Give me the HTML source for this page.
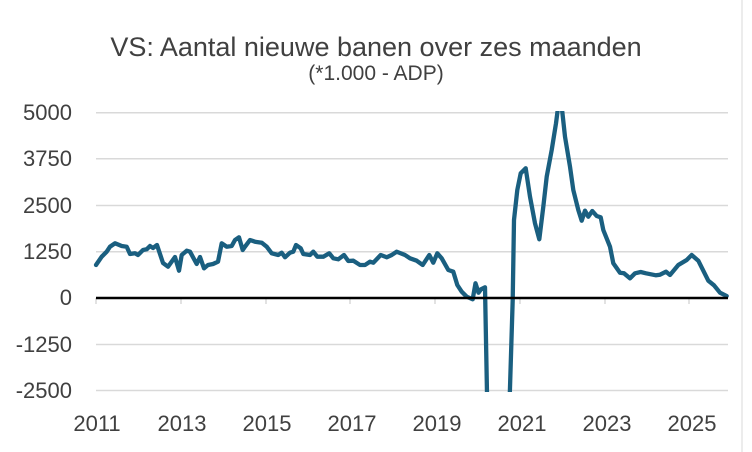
<!DOCTYPE html>
<html><head><meta charset="utf-8"><style>
html,body{margin:0;padding:0;background:#fff;}
svg{display:block;font-family:"Liberation Sans",sans-serif;}
</style></head><body>
<svg width="752" height="452" viewBox="0 0 752 452" xmlns="http://www.w3.org/2000/svg">
<defs><clipPath id="c"><rect x="90" y="111" width="645" height="281"/></clipPath></defs>
<rect x="0" y="0" width="752" height="452" fill="#fff"/>
<line x1="742" y1="0" x2="742" y2="452" stroke="#d9d9d9" stroke-width="1"/>
<text x="376" y="56" text-anchor="middle" font-size="27" fill="#404040">VS: Aantal nieuwe banen over zes maanden</text>
<text x="376" y="80" text-anchor="middle" font-size="21" fill="#404040">(*1.000 - ADP)</text>
<g stroke="#d9d9d9" stroke-width="1.5">
<line x1="96" y1="112.7" x2="728" y2="112.7"/>
<line x1="96" y1="158.7" x2="728" y2="158.7"/>
<line x1="96" y1="205.5" x2="728" y2="205.5"/>
<line x1="96" y1="251.7" x2="728" y2="251.7"/>
<line x1="96" y1="344.5" x2="728" y2="344.5"/>
<line x1="96" y1="390.5" x2="728" y2="390.5"/>
</g>
<g stroke="#d9d9d9" stroke-width="1.5">
<line x1="96" y1="298" x2="96" y2="304"/><line x1="181" y1="298" x2="181" y2="304"/>
<line x1="266" y1="298" x2="266" y2="304"/><line x1="350" y1="298" x2="350" y2="304"/>
<line x1="435" y1="298" x2="435" y2="304"/><line x1="520" y1="298" x2="520" y2="304"/>
<line x1="605" y1="298" x2="605" y2="304"/><line x1="689" y1="298" x2="689" y2="304"/>
</g>
<g font-size="22" fill="#404040" text-anchor="end">
<text x="72" y="120">5000</text><text x="72" y="166">3750</text><text x="72" y="213">2500</text>
<text x="72" y="259">1250</text><text x="72" y="305">0</text><text x="72" y="352">-1250</text><text x="72" y="398">-2500</text>
</g>
<g font-size="22" fill="#404040" text-anchor="middle">
<text x="97" y="431">2011</text><text x="182" y="431">2013</text><text x="267" y="431">2015</text>
<text x="352" y="431">2017</text><text x="437" y="431">2019</text><text x="522" y="431">2021</text>
<text x="607" y="431">2023</text><text x="692" y="431">2025</text>
</g>
<polyline clip-path="url(#c)" fill="none" stroke="#1a5f80" stroke-width="4.3" stroke-linejoin="round" stroke-linecap="round" points="96,265 101.7,256.7 106.7,251.7 110,246.7 115,243.3 121.7,246 126.7,246.7 130,254 135,253.3 138,255 143,250 146.7,249.3 150,246 153,248 157,245 163,263 168,266.7 175,257 179,270.7 181.7,255 186.7,250.7 190,251.7 196.7,264 200,257 204,268.3 208,265 213,264 218,261.7 221.7,243.3 226.7,246.7 231.7,246 235,240 239,237.3 242.7,250 245,246.7 250,240 255,241.7 261.7,242.7 266.7,246.7 271.7,253.3 278.3,255 281.7,252.7 285,257.3 290,252.7 293.3,251.7 296,245 300.7,248.3 303.3,254 310,255 313.3,251.7 317.3,256.7 323.3,256.7 329.3,253.3 333.3,258.3 338.3,259.3 344,255 348.3,261 353.3,260.7 360,265 365,265 370,261.7 373.3,262.7 380.7,255 386.7,257.3 391.7,255 396.7,251.7 405,255 410,258.3 416.7,260.7 422.7,265 429.3,255 433.3,262.7 437.3,253.3 441.7,258.3 448.3,270 453.3,271.7 457.3,285 461.7,291.7 466.7,296.7 472.7,299.3 475.5,283.3 478.5,292.7 481,289.3 485,287.3 487.5,420 509,420 512.7,300 514,220 517.3,190 520.7,173.3 525.7,168.3 530,196.7 535,223.3 539.3,239.3 543.3,206.7 546.7,176.7 551.7,150 556,123.3 559,100 561,100 565,136.7 570,166.7 573.3,190 578.3,210 581.7,220.7 585,210.7 588.3,216.7 592.3,211 596.7,216 600.7,217.3 603.3,230 610,246.7 613.3,263.3 620,272.7 624,273.3 630,278.3 635,273.3 640.7,272 646,273.3 656,275.3 660,274.7 666,271.7 670,275 678.3,265 686.7,260 691.7,255 698.3,260.7 703.3,270.7 708.3,280.7 714,285.3 720,292.7 726.7,296"/>
<line x1="96" y1="298" x2="728" y2="298" stroke="#000" stroke-width="2.5"/>
</svg>
</body></html>
